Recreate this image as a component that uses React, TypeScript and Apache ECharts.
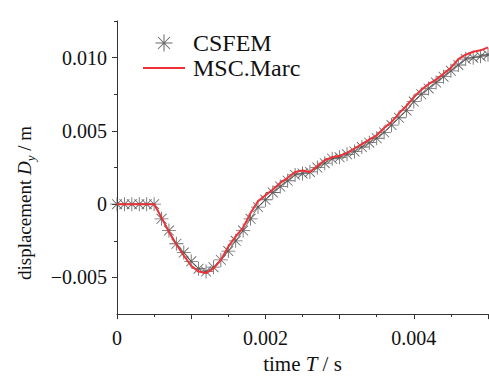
import React, { useEffect, useRef } from "react";
import * as echarts from "echarts";

const times: number[] = [
  0, 0.0001, 0.0002, 0.0003, 0.0004, 0.0005, 0.0006, 0.0007, 0.0008, 0.0009,
  0.001, 0.0011, 0.0012, 0.0013, 0.0014, 0.0015, 0.0016, 0.0017, 0.0018, 0.0019,
  0.002, 0.0021, 0.0022, 0.0023, 0.0024, 0.0025, 0.0026, 0.0027, 0.0028, 0.0029,
  0.003, 0.0031, 0.0032, 0.0033, 0.0034, 0.0035, 0.0036, 0.0037, 0.0038, 0.0039,
  0.004, 0.0041, 0.0042, 0.0043, 0.0044, 0.0045, 0.0046, 0.0047, 0.0048, 0.0049,
  0.005,
];

const csfem: number[] = [
  0, 0, 0, 0, 0, 0, -0.001, -0.0018, -0.0027, -0.0033,
  -0.0039, -0.0044, -0.0046, -0.0043, -0.0038, -0.0032, -0.0025, -0.0018, -0.001, -0.0002,
  0.0003, 0.0008, 0.0012, 0.0016, 0.002, 0.0021, 0.0022, 0.0025, 0.0028, 0.0031,
  0.0032, 0.0034, 0.0036, 0.0039, 0.0042, 0.0045, 0.0049, 0.0054, 0.0059, 0.0064,
  0.007, 0.0075, 0.0079, 0.0083, 0.0087, 0.0091, 0.0095, 0.0099, 0.01, 0.0101,
  0.0102,
];

const mscMarc: number[] = [
  0, 0, 0, 0, 0, 0, -0.0009, -0.0019, -0.00275, -0.0035,
  -0.0042, -0.0046, -0.0047, -0.0044, -0.0038, -0.0029, -0.0022, -0.0016, -0.0006, 0.0002,
  0.0006, 0.001, 0.00145, 0.0018, 0.0022, 0.0023, 0.0022, 0.0026, 0.003, 0.0032,
  0.0033, 0.0035, 0.0038, 0.0041, 0.0044, 0.0047, 0.0052, 0.0056, 0.0062, 0.0067,
  0.0073, 0.0078, 0.0082, 0.0085, 0.0089, 0.0093, 0.0099, 0.0102, 0.0104, 0.0105,
  0.0107,
];

const xMajorTicks: number[] = [0, 0.001, 0.002, 0.003, 0.004, 0.005];
const xMinorTicks: number[] = [0.0005, 0.0015, 0.0025, 0.0035, 0.0045];
const xLabels: number[] = [0, 0.002, 0.004];
const yMajorTicks: number[] = [-0.005, 0, 0.005, 0.01];
const yMinorTicks: number[] = [-0.0025, 0.0025, 0.0075, 0.0125];

const STAR =
  "path://M0 9.4H20V10.6H0Z M9.4 0H10.6V20H9.4Z M3.35 2.51L17.49 16.65L16.65 17.49L2.51 3.35Z M16.65 2.51L17.49 3.35L3.35 17.49L2.51 16.65Z";
const LINE_ICON = "path://M0 0H42V2H0Z";

const FONT = "'Liberation Serif', 'Times New Roman', serif";

function fmt(v: number): string {
  if (Math.abs(v) < 1e-12) return "0";
  const s = Math.abs(v).toFixed(3);
  return v < 0 ? "\u2212" + s : s;
}

export default function App() {
  const ref = useRef<HTMLDivElement>(null);
  useEffect(() => {
    if (!ref.current) return;
    const chart = echarts.init(ref.current, undefined, { renderer: "svg" });
    const axisColor = "#333";
    chart.setOption({
      animation: false,
      backgroundColor: "#fff",
      textStyle: { fontFamily: FONT },
      grid: { left: 117, right: 1, top: 21, bottom: 58 },
      legend: {
        left: 143,
        top: 31,
        padding: 0,
        orient: "vertical",
        itemWidth: 42,
        itemHeight: 17,
        itemGap: 1,
        selectedMode: false,
        textStyle: { fontFamily: FONT, fontSize: 24, color: "#111", lineHeight: 24, padding: [0, 0, 0, 3] },
        data: [
          { name: "CSFEM", icon: STAR },
          { name: "MSC.Marc", icon: LINE_ICON },
        ],
      },
      xAxis: [
        {
          type: "value",
          min: 0,
          max: 0.005,
          name: "time {i|T} / s",
          nameLocation: "middle",
          nameGap: 38,
          nameTextStyle: {
            fontFamily: FONT,
            fontSize: 21,
            color: "#111",
            rich: { i: { fontFamily: FONT, fontSize: 21, fontStyle: "italic", color: "#111" } },
          },
          splitLine: { show: false },
          axisLine: { show: true, onZero: false, lineStyle: { color: axisColor, width: 1 } },
          axisTick: { show: true, inside: false, length: 5, customValues: xMajorTicks, lineStyle: { color: axisColor } },
          axisLabel: {
            customValues: xLabels,
            formatter: (v: number) => fmt(v),
            fontFamily: FONT,
            fontSize: 20,
            color: "#111",
            margin: 14,
          },
        },
        {
          type: "value",
          min: 0,
          max: 0.005,
          position: "bottom",
          offset: 0,
          splitLine: { show: false },
          axisLine: { show: false, onZero: false },
          axisTick: { show: true, inside: false, length: 3, customValues: xMinorTicks, lineStyle: { color: axisColor } },
          axisLabel: { show: false },
        },
      ],
      yAxis: [
        {
          type: "value",
          min: -0.0075,
          max: 0.0125,
          splitLine: { show: false },
          axisLine: { show: true, onZero: false, lineStyle: { color: axisColor, width: 1 } },
          axisTick: { show: true, inside: false, length: 5, customValues: yMajorTicks, lineStyle: { color: axisColor } },
          axisLabel: {
            customValues: yMajorTicks,
            formatter: (v: number) => fmt(v),
            fontFamily: FONT,
            fontSize: 20,
            color: "#111",
            margin: 10,
          },
        },
        {
          type: "value",
          min: -0.0075,
          max: 0.0125,
          position: "left",
          offset: 0,
          splitLine: { show: false },
          axisLine: { show: false, onZero: false },
          axisTick: { show: true, inside: false, length: 3, customValues: yMinorTicks, lineStyle: { color: axisColor } },
          axisLabel: { show: false },
        },
      ],
      graphic: [
        {
          type: "text",
          x: 24,
          y: 203,
          rotation: Math.PI / 2,
          style: {
            text: "displacement {i|D}{s|y} / m",
            fontFamily: FONT,
            fontSize: 19,
            fill: "#111",
            align: "center",
            verticalAlign: "middle",
            rich: {
              i: { fontFamily: FONT, fontSize: 19, fontStyle: "italic", fill: "#111" },
              s: { fontFamily: FONT, fontSize: 13, fontStyle: "italic", fill: "#111", verticalAlign: "bottom", lineHeight: 25 },
            },
          },
        },
      ],
      series: [
        {
          name: "CSFEM",
          type: "line",
          xAxisIndex: 0,
          yAxisIndex: 0,
          data: times.map((t, i) => [t, csfem[i]]),
          symbol: STAR,
          symbolSize: 14,
          showAllSymbol: true,
          itemStyle: { color: "#4d4d4d", opacity: 0.85 },
          lineStyle: { color: "#555", width: 0.8 },
          z: 2,
        },
        {
          name: "MSC.Marc",
          type: "line",
          xAxisIndex: 0,
          yAxisIndex: 0,
          data: times.map((t, i) => [t, mscMarc[i]]),
          showSymbol: false,
          symbol: "none",
          itemStyle: { color: "#ec3237" },
          lineStyle: { color: "#ec3237", width: 2 },
          z: 3,
        },
      ],
    });
    return () => chart.dispose();
  }, []);
  return (
    <div
      ref={ref}
      style={{ position: "fixed", left: 0, top: 0, width: 489, height: 379, background: "#fff" }}
    />
  );
}
